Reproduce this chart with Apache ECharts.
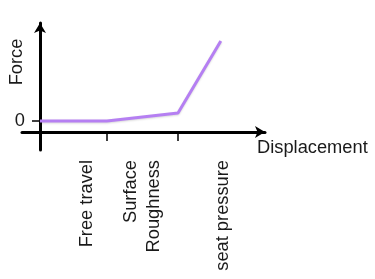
<!DOCTYPE html>
<html>
<head>
<meta charset="utf-8">
<script src="https://cdn.jsdelivr.net/npm/echarts@6/dist/echarts.min.js"></script>
<style>
html,body{margin:0;padding:0;background:#fff;}
#chart{width:375px;height:279px;}
</style>
</head>
<body>
<div id="chart"></div>
<script>
// Curve points (schematic units)
const displacement = [0, 0.97, 2.0, 2.62];
const force = [0, 0, 1, 10];
// Stage boundaries (ticks on the displacement axis)
const stageTicks = [0.97, 2.0];
// Stage labels and where they sit along the displacement axis
const stageLabels = ['Free travel', 'Surface\nRoughness', 'seat pressure'];
const stageLabelPos = [0.68, 1.49, 2.65];
// Force axis labelled values
const forceTicks = [0];
const forceTickLabels = ['0'];

const FONT = 'Liberation Sans, Arial, Helvetica, sans-serif';
const TXT = '#1a1a1a';

const chart = echarts.init(document.getElementById('chart'), null, {renderer: 'canvas'});
chart.setOption({
  animation: false,
  backgroundColor: '#fff',
  grid: {left: 22, right: 110, top: 23, bottom: 129, containLabel: false, outerBoundsMode: 'none'},
  xAxis: {
    type: 'value',
    min: -0.26,
    max: 3.26,
    offset: -18,
    name: 'Displacement',
    nameLocation: 'end',
    nameGap: -8,
    nameMoveOverlap: false,
    nameTextStyle: {fontFamily: FONT, fontSize: 18.3, color: TXT, align: 'left', verticalAlign: 'top', padding: [7, 0, 0, 0]},
    axisLine: {onZero: false, lineStyle: {color: '#000', width: 3}, symbol: ['none', 'arrow'], symbolSize: [9, 10]},
    axisTick: {show: true, customValues: stageTicks, length: 9, lineStyle: {color: '#000', width: 1.5}},
    axisLabel: {
      customValues: stageLabelPos,
      rotate: 90,
      margin: 28,
      fontFamily: FONT, fontSize: 18.3, color: TXT, lineHeight: 23,
      formatter: function (v) {
        let best = 0, d = Infinity;
        stageLabelPos.forEach(function (p, i) { if (Math.abs(p - v) < d) { d = Math.abs(p - v); best = i; } });
        return stageLabels[best];
      }
    },
    splitLine: {show: false}
  },
  yAxis: {
    type: 'value',
    min: -3.625,
    max: 12.25,
    offset: -18,
    name: 'Force',
    nameLocation: 'middle',
    nameGap: 14,
    nameMoveOverlap: false,
    nameTextStyle: {fontFamily: FONT, fontSize: 18.3, color: TXT, padding: [0, 0, 0, 49]},
    axisLine: {onZero: false, lineStyle: {color: '#000', width: 3}, symbol: ['none', 'arrow'], symbolSize: [9, 10]},
    axisTick: {show: true, customValues: forceTicks, length: 8, lineStyle: {color: '#000', width: 1.5}},
    axisLabel: {
      customValues: forceTicks,
      margin: 15,
      fontFamily: FONT, fontSize: 18.3, color: TXT,
      formatter: function (v) { return forceTickLabels[forceTicks.indexOf(v)] || String(v); }
    },
    splitLine: {show: false}
  },
  series: [{
    type: 'line',
    data: displacement.map(function (x, i) { return [x, force[i]]; }),
    symbol: 'none',
    lineStyle: {color: '#b57ff2', width: 3, shadowColor: 'rgba(0,0,0,0.15)', shadowBlur: 2, shadowOffsetY: 1},
    z: 1
  }]
});
</script>
</body>
</html>
